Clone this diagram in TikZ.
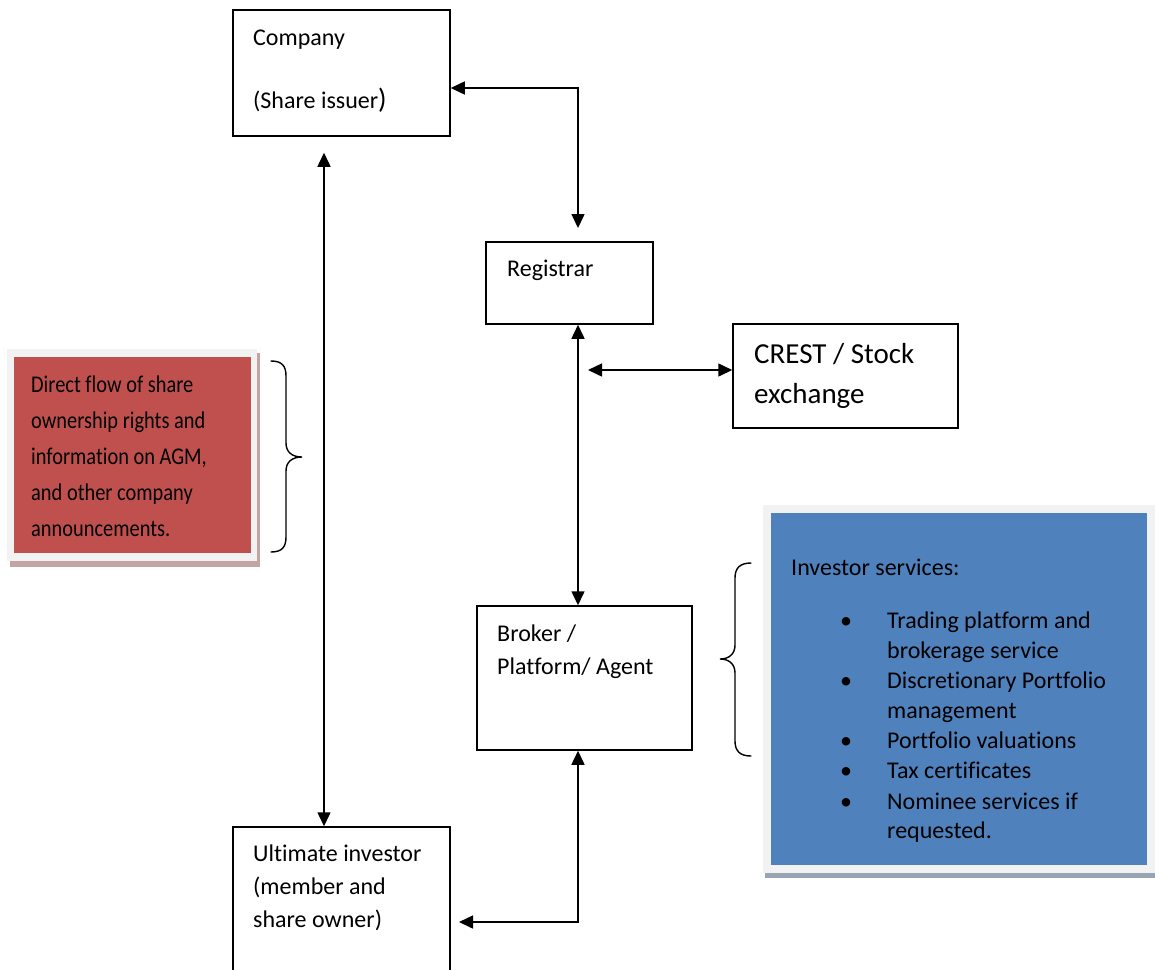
\documentclass[tikz,border=0pt]{standalone}
\usepackage{fontspec}
\setmainfont[Ligatures=NoCommon]{Carlito}
\newfontfamily\condfont[FakeStretch=0.85,Ligatures=NoCommon]{Carlito}
\usetikzlibrary{arrows.meta,calc}
\definecolor{redfill}{HTML}{C0504D}
\definecolor{bluefill}{HTML}{4F81BD}
\definecolor{framegray}{HTML}{F2F2F2}
\definecolor{redshadow}{HTML}{C4A3A3}
\definecolor{blueshadow}{HTML}{97A4B4}
\tikzset{
  box/.style={draw=black, line width=1.5pt, fill=white, inner sep=0pt},
  txt/.style={inner sep=0pt, anchor=base west, font=\fontsize{24}{33}\selectfont},
  bigtxt/.style={inner sep=0pt, anchor=base west, font=\fontsize{29}{40}\selectfont},
  condtxt/.style={inner sep=0pt, anchor=base west, font=\condfont\fontsize{24}{36}\selectfont},
  bul/.style={inner sep=0pt, anchor=base, font=\fontsize{24}{30}\selectfont},
  arr/.style={line width=1.5pt, {Triangle[length=14pt,width=13pt]}-{Triangle[length=14pt,width=13pt]}},
  brace/.style={line width=1.4pt, line cap=round}
}
\begin{document}
\begin{tikzpicture}[x=1pt,y=-1pt]
\useasboundingbox (0,0) rectangle (1155,969);
\clip (0,0) rectangle (1155,969);
% red note box
\fill[redshadow] (10,353) rectangle (260,567);
\fill[framegray] (7,349) rectangle (257,561);
\node[fill=redfill, inner sep=0pt, minimum width=237pt, minimum height=196pt] (rednote) at (132.5,455) {};
\node[condtxt] (r1) at (31,392) {Direct flow of share};
\node[condtxt] (r2) at (31,428) {ownership rights and};
\node[condtxt] (r3) at (31,464) {information on AGM,};
\node[condtxt] (r4) at (31,500) {and other company};
\node[condtxt] (r5) at (31,536) {announcements.};
% blue note box
\fill[blueshadow] (765,873) rectangle (1155,878);
\fill[framegray] (763,505) rectangle (1155,873);
\node[fill=bluefill, inner sep=0pt, minimum width=376pt, minimum height=352pt] (bluenote) at (959,689) {};
\node[txt] (b0) at (791,575) {Investor services:};
\node[bul] (bb1) at (846,628) {•};
\node[txt] (b1) at (887,628) {Trading platform and};
\node[txt] (b2) at (887,658) {brokerage service};
\node[bul] (bb2) at (846,688) {•};
\node[txt] (b3) at (887,688) {Discretionary Portfolio};
\node[txt] (b4) at (887,718) {management};
\node[bul] (bb3) at (846,748) {•};
\node[txt] (b5) at (887,748) {Portfolio valuations};
\node[bul] (bb4) at (846,778) {•};
\node[txt] (b6) at (887,778) {Tax certificates};
\node[bul] (bb5) at (846,809) {•};
\node[txt] (b7) at (887,809) {Nominee services if};
\node[txt] (b8) at (887,838) {requested.};
% braces
\draw[brace] (271,361) .. controls (282,361) and (286,366) .. (286,376) -- (286,443) .. controls (286,452) and (292,457) .. (302,457) .. controls (292,457) and (286,462) .. (286,471) -- (286,537) .. controls (286,547) and (282,552) .. (271,552);
\draw[brace] (751,563) .. controls (740,563) and (735,568) .. (735,578) -- (735,645) .. controls (735,654) and (729,659) .. (720,659) .. controls (729,659) and (735,664) .. (735,673) -- (735,741) .. controls (735,751) and (740,756) .. (751,756);
% main boxes
\node[box, minimum width=217pt, minimum height=126pt] (company) at (341.5,73) {};
\node[txt] (c1) at (253,45) {Company};
\node[txt] (c2) at (253,108) {(Share issuer{\fontsize{28}{28}\selectfont )}};
\node[box, minimum width=167pt, minimum height=82pt] (registrar) at (569.5,283) {};
\node[txt] (g1) at (507,276) {Registrar};
\node[box, minimum width=225pt, minimum height=104pt] (crest) at (845.5,376) {};
\node[bigtxt] (s1) at (754,363) {CREST / Stock};
\node[bigtxt] (s2) at (754,403) {exchange};
\node[box, minimum width=215pt, minimum height=144pt] (broker) at (584.5,678) {};
\node[txt] (k1) at (497,641) {Broker /};
\node[txt] (k2) at (497,674) {Platform/ Agent};
\node[box, minimum width=217pt, minimum height=170pt] (investor) at (341.5,912) {};
\node[txt] (u1) at (253,861) {Ultimate investor};
\node[txt] (u2) at (253,894) {(member and};
\node[txt] (u3) at (253,927) {share owner)};
% connectors
\coordinate (vx) at (578,0);
\coordinate (lx) at (324,0);
\coordinate (rtop) at (578,228);
\coordinate (cl) at (588,370);
\coordinate (ib) at (459,922);
\draw[arr] (company.east |- 0,88) -| (rtop);
\draw[arr] ($(lx |- company.south)+(0,16)$) -- (lx |- investor.north);
\draw[arr] (vx |- registrar.south) -- (vx |- broker.north);
\draw[arr] (cl) -- (crest.west |- cl);
\draw[arr] (vx |- broker.south) |- (ib);
\end{tikzpicture}
\end{document}
